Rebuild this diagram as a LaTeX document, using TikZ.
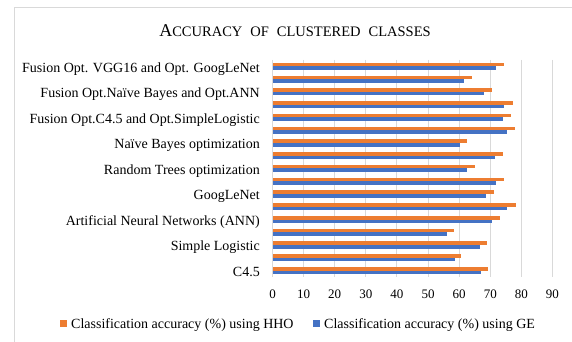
\documentclass[tikz,border=0pt]{standalone}
\usepackage{fontspec}
\setmainfont{Liberation Serif}
\definecolor{hho}{HTML}{ED7D31}
\definecolor{ge}{HTML}{4472C4}
\definecolor{gridgray}{HTML}{D9D9D9}
\tikzset{
  gridline/.style={draw=gridgray, line width=1pt},
  catlabel/.style={anchor=base east, inner sep=0pt, font=\fontsize{14}{15}\selectfont},
  ticklabel/.style={anchor=base, inner sep=0pt, font=\fontsize{13}{14}\selectfont},
  legendtext/.style={anchor=base west, inner sep=0pt, font=\fontsize{14}{15}\selectfont},
}
\begin{document}
\begin{tikzpicture}[x=1pt,y=-1pt]
\useasboundingbox (0,0) rectangle (572,342);
% chart frame
\draw[gridgray] (14,345) -- (14,7) -- (575,7);
% title
\node[anchor=base, inner sep=0pt] (title) at (295,36.7)
  {\fontsize{18}{18}\selectfont A\fontsize{14.5}{15}\selectfont\spaceskip=0.55em CCURACY OF CLUSTERED CLASSES};
% grid and value axis
\foreach \v in {0,10,...,90}{
  \pgfmathsetmacro\xv{272.5+\v*3.111}
  \draw[gridline] (\xv,60) -- (\xv,277);
  \node[ticklabel] (tick\v) at (\xv,298) {\v};
}
% bars, top row first: HHO / GE
\foreach \h/\g [count=\i] in {74.4/71.8, 64.1/61.6, 70.5/67.9, 77.2/74.4, 76.8/74.1,
    78.1/75.3, 62.6/60.4, 74.1/71.4, 65.0/62.5, 74.3/71.8, 71.3/68.5, 78.3/75.3,
    73.2/70.5, 58.3/56.0, 69.1/66.6, 60.6/58.5, 69.2/66.9}{
  \pgfmathsetmacro\yc{53.62+\i*12.76}
  \fill[hho] (272.5,\yc-3.6) rectangle (272.5+\h*3.111,\yc);
  \fill[ge] (272.5,\yc) rectangle (272.5+\g*3.111,\yc+3.6);
}
% category labels (every other row)
\foreach \i/\t in {1/Fusion Opt. VGG16 and Opt. GoogLeNet,
    3/Fusion Opt.Naïve Bayes and Opt.ANN,
    5/Fusion Opt.C4.5 and Opt.SimpleLogistic,
    7/Naïve Bayes optimization,
    9/Random Trees optimization,
    11/GoogLeNet,
    13/Artificial Neural Networks (ANN),
    15/Simple Logistic,
    17/C4.5}{
  \pgfmathsetmacro\yc{53.62+\i*12.76}
  \node[catlabel] (cat\i) at (260,\yc+5.7) {\t};
}
% legend
\fill[hho] (60,320) rectangle (67,327);
\node[legendtext] (leghho) at (71,328.5) {Classification accuracy (\%) using HHO};
\fill[ge] (313,320) rectangle (320,327);
\node[legendtext] (legge) at (324,328.5) {Classification accuracy (\%) using GE};
\end{tikzpicture}
\end{document}
